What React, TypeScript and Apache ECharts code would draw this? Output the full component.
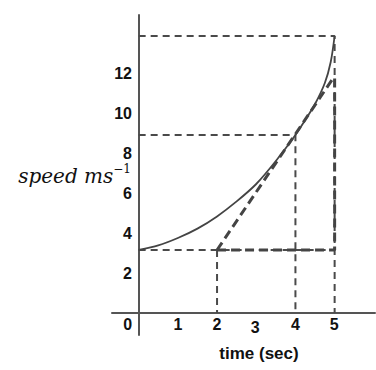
import React, { useEffect, useRef } from "react";
import * as echarts from "echarts";

// Tick labels
const xTickValues = [0, 1, 2, 3, 4, 5];
const yTickValues = [2, 4, 6, 8, 10, 12];

// Speed curve
const curveTime = [0, 0.5, 1, 1.5, 2, 2.5, 3, 3.5, 4, 4.25, 4.5, 4.75, 4.9, 5];
const curveSpeed = [3.15, 3.38, 3.75, 4.22, 4.83, 5.58, 6.45, 7.6, 8.9, 9.65, 10.45, 11.5, 12.55, 13.85];

// Guide values
const startSpeed = 3.15;
const tangentStartTime = 2;
const pointTime = 4;
const pointSpeed = 8.9;
const endTime = 5;
const endSpeed = 13.85;
const tangentEndSpeed = 11.85;

const AXIS_COLOR = "#555";
const LINE_COLOR = "#444";

export default function App() {
  const ref = useRef<HTMLDivElement>(null);

  useEffect(() => {
    if (!ref.current) return;
    const chart = echarts.init(ref.current, null, { renderer: "svg" });

    const thin = { color: "#4a4a4a", width: 2, type: [7, 5] as number[] };
    const thick = { color: LINE_COLOR, width: 3, type: [9, 5] as number[] };
    const seg = (data: number[][], lineStyle: any, z = 2) => ({
      type: "line",
      data,
      symbol: "none",
      lineStyle,
      z,
      silent: true,
    });

    const tick = { fontFamily: "Liberation Sans", fontWeight: "bold", fontSize: 16, color: "#111" };

    chart.setOption({
      animation: false,
      grid: { left: 112, right: 1, top: 15, bottom: 35, outerBoundsMode: "none" },
      xAxis: {
        type: "value",
        min: -0.68,
        max: 6.03,
        splitLine: { show: false },
        axisTick: { show: false },
        axisLine: { onZero: true, lineStyle: { color: AXIS_COLOR, width: 2 } },
        axisLabel: {
          customValues: xTickValues,
          margin: -19,
          formatter: (v: number) =>
            v === 0 ? "{z|0}" : v === 3 ? "{t|3}" : v === 5 ? "{f|5}" : "{n|" + v + "}",
          rich: {
            z: { ...tick, padding: [0, 22, 0, 0] },
            t: { ...tick, padding: [3, 2, 0, 0] },
            f: { ...tick, padding: [0, 1, 2, 0] },
            n: { ...tick },
          },
        },
        name: "time (sec)",
        nameLocation: "middle",
        nameGap: 10,
        nameMoveOverlap: false,
        nameTextStyle: { ...tick, fontSize: 17, padding: [0, 0, 0, 31] },
      },
      yAxis: {
        type: "value",
        min: -1.1,
        max: 14.9,
        splitLine: { show: false },
        axisTick: { show: false },
        axisLine: { onZero: true, lineStyle: { color: AXIS_COLOR, width: 2 } },
        axisLabel: {
          customValues: yTickValues,
          margin: -20,
          ...tick,
        },
        name: "{a|speed ms}{b|\u22121}",
        nameLocation: "middle",
        nameRotate: 0,
        nameGap: -19,
        nameMoveOverlap: false,
        nameTextStyle: {
          rich: {
            a: {
              fontFamily: "DejaVu Serif",
              fontStyle: "italic",
              fontSize: 20,
              color: "#111",
              lineHeight: 24,
              verticalAlign: "middle",
              padding: [2, 0, 0, 0],
            },
            b: {
              fontFamily: "DejaVu Serif",
              fontSize: 12,
              color: "#111",
              lineHeight: 14,
              verticalAlign: "top",
            },
          },
        },
      },
      series: [
        seg([[0, endSpeed], [endTime, endSpeed], [endTime, 0]], thin),
        seg([[0, pointSpeed], [pointTime, pointSpeed], [pointTime, 0]], thin),
        seg([[0, startSpeed], [endTime, startSpeed]], thin),
        seg([[tangentStartTime, startSpeed], [tangentStartTime, 0]], thin),
        seg([[tangentStartTime, startSpeed], [endTime, tangentEndSpeed]], thick, 3),
        seg([[tangentStartTime, startSpeed], [endTime, startSpeed], [endTime, tangentEndSpeed]], thick, 3),
        {
          type: "line",
          data: curveTime.map((t, i) => [t, curveSpeed[i]]),
          symbol: "none",
          smooth: 0.3,
          lineStyle: { color: LINE_COLOR, width: 1.8 },
          z: 4,
          silent: true,
        },
      ],
    });

    return () => chart.dispose();
  }, []);

  return (
    <div
      ref={ref}
      style={{ position: "absolute", left: 0, top: 0, width: 376, height: 370, background: "#fff" }}
    />
  );
}
